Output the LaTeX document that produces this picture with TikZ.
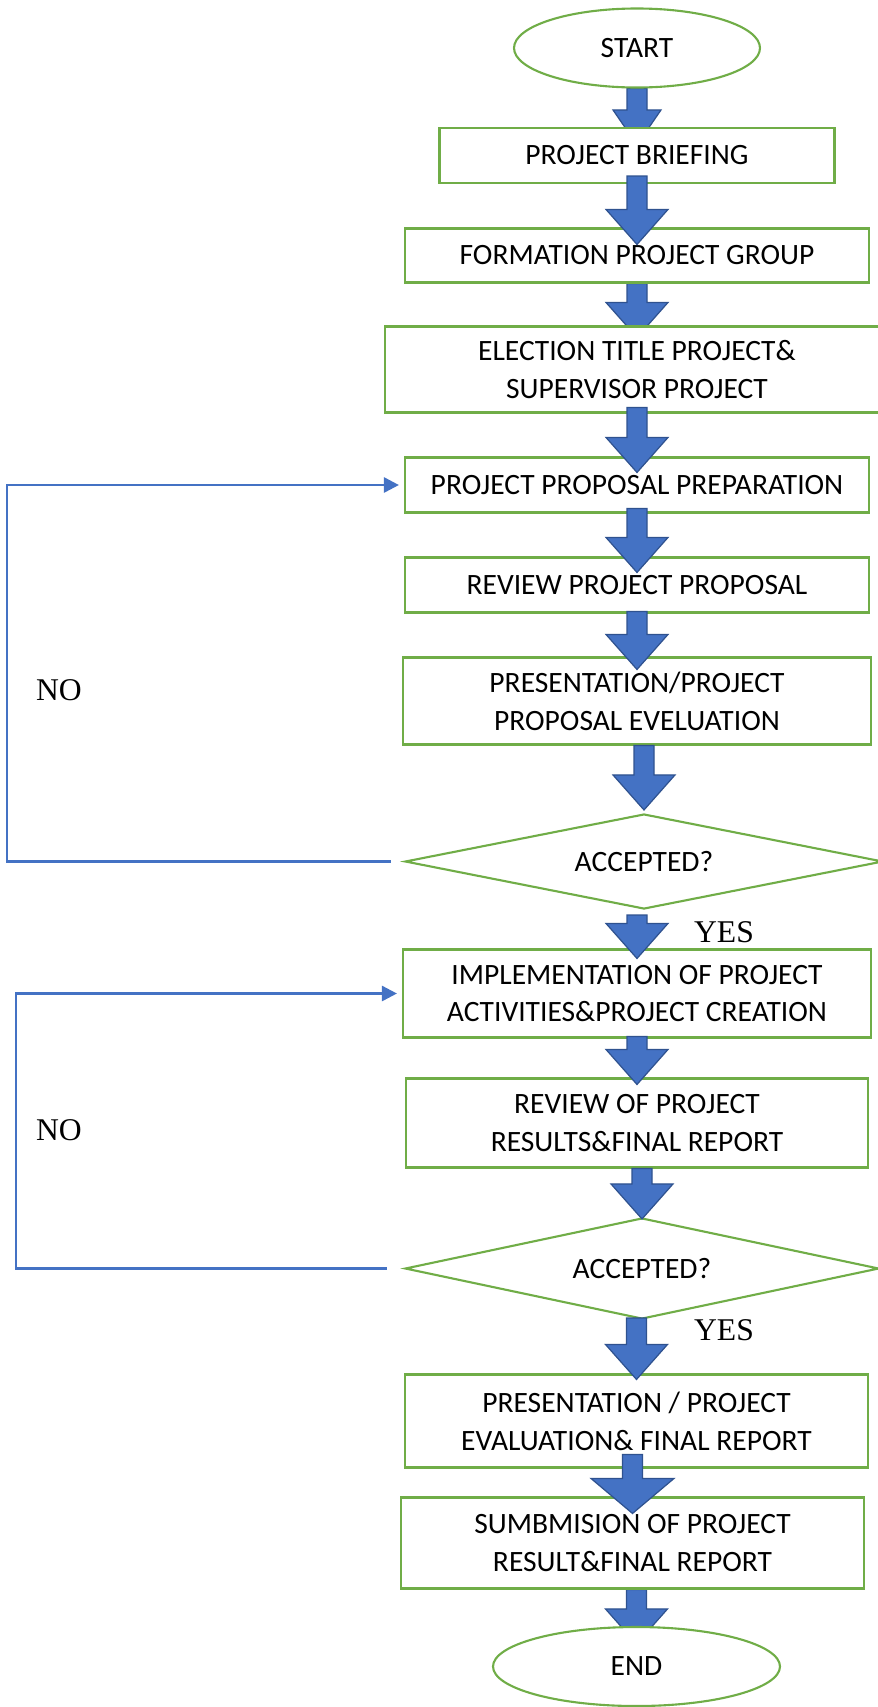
\documentclass[tikz,border=0pt]{standalone}
\usepackage{fontspec}
\setmainfont{Carlito}
\newfontfamily\timesfont{Liberation Serif}
\usepackage{xcolor}
\usepackage{tikz}
\usetikzlibrary{arrows.meta}
\usetikzlibrary{calc,positioning,shapes.geometric}
\definecolor{boxgreen}{RGB}{112,173,71}
\definecolor{flowblue}{RGB}{68,114,196}
\definecolor{flowedge}{RGB}{47,82,143}
\pgfdeclarelayer{back}
\pgfsetlayers{back,main}
\newcommand{\fatshaft}{0.2cm}
\newcommand{\fathead}{0.62cm}
\newcommand{\fatlen}{0.7cm}
\tikzset{%
  >={Triangle[width=3mm,length=3mm]},
  % Look of the chart parts:
  stepbase/.style = {rectangle, draw=boxgreen, line width=1.2pt, fill=white,
    inner sep=0pt, align=center, font=\fontsize{16.8}{21.6}\selectfont},
  terminal/.style = {stepbase, ellipse, minimum width=4.92cm, minimum height=1.58cm},
  task/.style = {stepbase, minimum width=9.28cm, minimum height=1.1cm},
  tasktwo/.style = {stepbase, minimum width=9.36cm, minimum height=1.76cm},
  decision/.style = {stepbase, diamond, shape aspect=5,
    minimum width=9.56cm, minimum height=1.9cm},
  answer/.style = {inner sep=0pt, font=\timesfont\fontsize{18}{20}\selectfont},
  backline/.style = {->, draw=flowblue, line width=1.5pt},
  % the big blue down arrows
  fathead/.code = {\renewcommand{\fathead}{#1}},
  fatarrow/.style = {draw=flowedge, fill=flowblue, line width=0.7pt,
    to path={let \p1=(\tikztostart), \p2=(\tikztotarget) in
      (\x2-\fatshaft,\y1) -- (\x2-\fatshaft,\y2+\fatlen) -- (\x2-\fathead,\y2+\fatlen)
      -- (\x2,\y2) -- (\x2+\fathead,\y2+\fatlen) -- (\x2+\fatshaft,\y2+\fatlen)
      -- (\x2+\fatshaft,\y1) -- cycle}},
}

\begin{document}
\begin{tikzpicture}[node distance=2cm]
  \useasboundingbox (0,0) rectangle (17.54,-34.14);
  % Chart steps
  \node (start) [terminal] at (12.74,-0.96) {START};
  \node (brief) [task, below of=start, yshift=-0.15cm, minimum width=7.9cm] {PROJECT BRIEFING};
  \node (group) [task, below of=brief, minimum height=1.08cm] {FORMATION PROJECT GROUP};
  \node (title) [tasktwo, below of=group, yshift=-0.28cm, minimum width=10.08cm,
    minimum height=1.72cm] {ELECTION TITLE PROJECT\&\\ SUPERVISOR PROJECT};
  \node (prep) [task, below of=title, yshift=-0.31cm] {PROJECT PROPOSAL PREPARATION};
  \node (review) [task, below of=prep] {REVIEW PROJECT PROPOSAL};
  \node (pres) [tasktwo, below of=review, yshift=-0.32cm, minimum height=1.74cm]
    {PRESENTATION/PROJECT\\ PROPOSAL EVELUATION};
  \node (askA) [decision, below of=pres, yshift=-1.21cm, xshift=0.14cm] {ACCEPTED?};
  \node (impl) [tasktwo, below of=askA, yshift=-0.64cm, xshift=-0.14cm]
    {IMPLEMENTATION OF PROJECT\\ ACTIVITIES\&PROJECT CREATION};
  \node (results) [tasktwo, below of=impl, yshift=-0.59cm, minimum width=9.24cm,
    minimum height=1.78cm] {REVIEW OF PROJECT\\ RESULTS\&FINAL REPORT};
  \node (askB) [decision, below of=results, yshift=-0.91cm, xshift=0.1cm,
    minimum width=9.48cm, minimum height=2.02cm] {ACCEPTED?};
  \node (final) [tasktwo, below of=askB, yshift=-1.05cm, xshift=-0.11cm, minimum width=9.26cm,
    minimum height=1.86cm] {PRESENTATION / PROJECT\\ EVALUATION\& FINAL REPORT};
  \node (submit) [tasktwo, below of=final, yshift=-0.44cm, xshift=-0.08cm, minimum width=9.26cm,
    minimum height=1.82cm] {SUMBMISION OF PROJECT\\ RESULT\&FINAL REPORT};
  \node (stop) [terminal, below of=submit, yshift=-0.47cm, xshift=0.08cm, minimum width=5.74cm] {END};
  % Yes / no labels
  \node (noA) [answer] at (1.18,-13.8) {NO};
  \node (noB) [answer] at (1.18,-22.6) {NO};
  \node (yesA) [answer] at (14.48,-18.64) {YES};
  \node (yesB) [answer] at (14.48,-26.6) {YES};
  % Arrows hidden under the next step
  \begin{pgfonlayer}{back}
    \draw[fatarrow, fathead=0.48cm] (start.south) to ([yshift=-0.36cm]brief.north);
    \draw[fatarrow] (group.south) to ([yshift=-0.24cm]title.north);
    \draw[fatarrow] (submit.south) to ([yshift=-0.36cm]stop.north);
  \end{pgfonlayer}
  % Arrows on top
  \draw[fatarrow] ([yshift=0.16cm]brief.south) to ([yshift=-0.34cm]group.north);
  \draw[fatarrow] ([yshift=0.12cm]title.south) to ([yshift=-0.32cm]prep.north);
  \draw[fatarrow] ([yshift=0.1cm]prep.south) to ([yshift=-0.32cm]review.north);
  \draw[fatarrow] ([yshift=0.04cm]review.south) to ([yshift=-0.26cm]pres.north);
  \draw[fatarrow] (pres.south) to ([yshift=0.06cm]askA.north);
  \draw[fatarrow] ([yshift=-0.1cm]askA.south) to ([yshift=-0.2cm]impl.north);
  \draw[fatarrow] ([yshift=0.04cm]impl.south) to ([yshift=-0.14cm]results.north);
  \draw[fatarrow] (results.south) to ([yshift=-0.04cm]askB.north);
  \draw[fatarrow] ([yshift=0.04cm]askB.south) to ([yshift=-0.12cm]final.north);
  \draw[fatarrow, fathead=0.83cm] ([yshift=0.28cm]final.south) to ([yshift=-0.34cm]submit.north);
  % Loops back when not accepted
  \draw[backline, shorten <=0.26cm, shorten >=0.1cm] (askA.west) -- ++(-7.94cm,0) |- (prep.west);
  \draw[backline, shorten <=0.34cm, shorten >=0.1cm] (askB.west) -- ++(-7.76cm,0) |- (impl.west);
\end{tikzpicture}
\end{document}
